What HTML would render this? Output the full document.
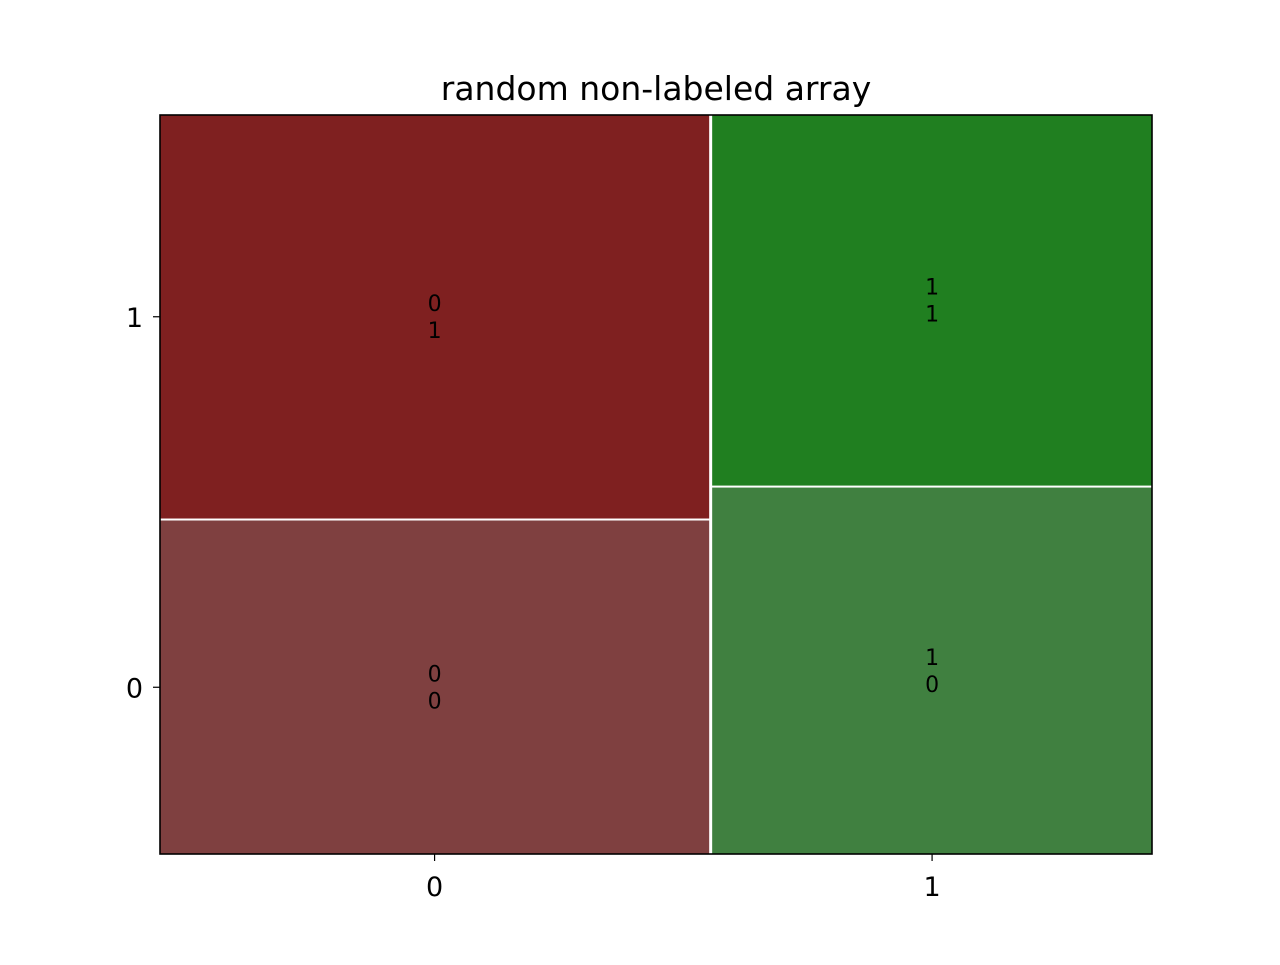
<!DOCTYPE html>
<html><head><meta charset="utf-8"><style>
body{margin:0;background:#fff}
svg text{font-family:"DejaVu Sans","Liberation Sans",sans-serif}
</style></head><body>
<svg id="chart" width="1280" height="960" xmlns="http://www.w3.org/2000/svg">
<rect width="1280" height="960" fill="#fff"/>
<text x="656" y="100" style="font-size:33px" text-anchor="middle">random non-labeled array</text>
<g id="marks"></g>
<rect x="160" y="115" width="992" height="739" fill="none" stroke="#000" stroke-width="1.6"/>
<g id="axes"></g>
</svg>
<script>
const categoriesX = ["0", "1"];
const categoriesY = ["0", "1"];
const counts = [[100, 121], [88, 89]]; // counts[x][y]
const colors = [["#7f4040", "#7f2020"], ["#408040", "#207f20"]];

const L = 160, R = 1152, T = 115, B = 854, gapX = 3, gapY = 2;
const ns = "http://www.w3.org/2000/svg";
const marks = document.getElementById('marks');
const axes = document.getElementById('axes');
function mk(tag, attrs, parent) { const e = document.createElementNS(ns, tag); for (const k in attrs) e.setAttribute(k, attrs[k]); parent.appendChild(e); return e; }

const colTotals = counts.map(c => c.reduce((a, b) => a + b, 0));
const grand = colTotals.reduce((a, b) => a + b, 0);
const usableW = (R - L) - gapX * (categoriesX.length - 1);
function xScale(frac) { return frac * usableW; }
let x = L;
const yTicks = [];
counts.forEach((col, i) => {
  const w = xScale(colTotals[i] / grand);
  const usableH = (B - T) - gapY * (col.length - 1);
  let yb = B;
  col.forEach((v, j) => {
    const h = usableH * v / colTotals[i];
    const r = mk('rect', { x: x, y: yb - h, width: w, height: h, fill: colors[i][j] }, marks);
    
    
    const cx = x + w / 2, cy = yb - h / 2;
    const t1 = mk('text', { x: cx, y: cy - 6, style: 'font-size:22px', 'text-anchor': 'middle' }, marks);
    t1.textContent = categoriesX[i];
    
    
    const t2 = mk('text', { x: cx, y: cy + 21, style: 'font-size:22px', 'text-anchor': 'middle' }, marks);
    t2.textContent = categoriesY[j];
    
    
    if (i === 0) yTicks.push(cy);
    yb -= h + gapY;
  });
  const tx = x + w / 2;
  const tk = mk('line', { x1: tx, x2: tx, y1: B, y2: B + 7, stroke: '#000', 'stroke-width': 1.2 }, axes);
  
  
  const tl = mk('text', { x: tx, y: B + 42, style: 'font-size:27px', 'text-anchor': 'middle' }, axes);
  tl.textContent = categoriesX[i];
  
  
  x += w + gapX;
});
yTicks.forEach((ty, j) => {
  const tk = mk('line', { x1: L - 7, x2: L, y1: ty, y2: ty, stroke: '#000', 'stroke-width': 1.2 }, axes);
  
  
  const tl = mk('text', { x: L - 17, y: ty + 10, style: 'font-size:27px', 'text-anchor': 'end' }, axes);
  tl.textContent = categoriesY[j];
  
  
});
</script>
</body></html>
